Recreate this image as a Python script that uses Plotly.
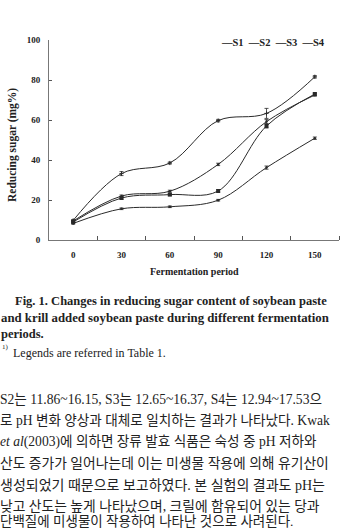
import plotly.graph_objects as go

# ---- data ----
periods = [0, 30, 60, 90, 120, 150]
series_names = ["S1", "S2", "S3", "S4"]
s1 = [8.3, 15.6, 16.6, 19.9, 36.2, 50.9]
s2 = [9.0, 21.0, 22.7, 24.5, 57.0, 73.0]
s3 = [9.5, 22.0, 24.4, 37.8, 59.2, 72.5]
s4 = [9.8, 33.2, 38.5, 59.7, 63.3, 81.6]
s1_err = [0.4, 0.4, 0.4, 0.4, 0.8, 0.6]
s2_err = [0.4, 0.6, 0.5, 0.6, 1.0, 0.6]
s3_err = [0.4, 0.5, 0.5, 0.6, 1.0, 0.6]
s4_err = [0.4, 1.0, 0.5, 0.6, 2.5, 0.6]
y_ticks = [0, 20, 40, 60, 80, 100]

W, H = 350, 530
L, R, T, B = 49, 11, 40, 290
PW, PH = W - L - R, H - T - B

def px(x):
    return (x - L) / PW

def py(y):
    return (H - B - y) / PH

SERIF = "Liberation Serif, Times New Roman, serif"
KR = "Liberation Serif, Noto Sans CJK KR, serif"
INK = "#2a2a2a"

fig = go.Figure()
styles = [
    dict(symbol="circle", size=2.5),
    dict(symbol="square", size=4),
    dict(symbol="circle", size=2.5),
    dict(symbol="cross-thin", size=3, line=dict(width=1, color=INK)),
]
for name, vals, err, st in zip(series_names, [s1, s2, s3, s4],
                               [s1_err, s2_err, s3_err, s4_err], styles):
    fig.add_trace(go.Scatter(
        x=periods, y=vals, name=name, mode="lines+markers",
        line=dict(color=INK, width=1, shape="spline", smoothing=1.0),
        marker=dict(color=INK, **st),
        error_y=dict(type="data", array=err, visible=True,
                     color=INK, thickness=0.8, width=2),
        showlegend=False,
    ))

fig.update_layout(
    width=W, height=H,
    margin=dict(l=L, r=R, t=T, b=B, pad=0),
    paper_bgcolor="white", plot_bgcolor="white",
    font=dict(family=SERIF, color="#222"),
)
fig.update_xaxes(
    range=[-15, 165], showgrid=False, zeroline=False,
    showline=True, linecolor="#777", linewidth=1,
    tickmode="array", tickvals=periods,
    ticktext=[f"<b>{p}</b>" for p in periods],
    ticks="", tickfont=dict(size=9, family=SERIF, color="#222"),
    ticklabelstandoff=6,
    minor=dict(tickmode="array", tickvals=[15, 45, 75, 105, 135, 165],
               ticks="inside", ticklen=4, tickcolor="#555", tickwidth=1),
)
fig.update_yaxes(
    range=[0, 100], showgrid=False, zeroline=False,
    showline=True, linecolor="#777", linewidth=1,
    tickmode="array", tickvals=y_ticks,
    ticktext=[f"<b>{v}</b>" for v in y_ticks],
    ticks="inside", ticklen=3, tickcolor="#555",
    tickfont=dict(size=9, family=SERIF, color="#222"),
    ticklabelstandoff=6,
)

ann = []
def add(text, x, y, size, xanchor="left", yanchor="middle", angle=0, family=SERIF, color="#222"):
    ann.append(dict(text=text, x=px(x), y=py(y), xref="paper", yref="paper",
                    showarrow=False, xanchor=xanchor, yanchor=yanchor,
                    textangle=angle, font=dict(size=size, family=family, color=color)))

# legend (text-style, as in the printed figure)
add("<b>—S1  —S2  —S3  —S4</b>", 327, 42, 10.5, xanchor="right")
# axis titles
add("<b>Fermentation period</b>", 194, 271, 10, xanchor="center")
add("<b>Reducing sugar (mg%)</b>", 12, 145, 11.5, xanchor="center", angle=-90)
# caption
add("<b>Fig. 1. Changes in reducing sugar content of soybean paste</b>", 13, 301, 12.5)
add("<b>and krill added soybean paste during different fermentation</b>", -1, 318, 12.8)
add("<b>periods.</b>", -1, 334, 12.5)
add("1)", 0, 347, 7)
add("Legends are referred in Table 1.", 11, 353, 12)
# body text
body = [
    "S2는 11.86~16.15, S3는 12.65~16.37, S4는 12.94~17.53으",
    "로 pH 변화 양상과 대체로 일치하는 결과가 나타났다. Kwak",
    "<i>et al</i>(2003)에 의하면 장류 발효 식품은 숙성 중 pH 저하와",
    "산도 증가가 일어나는데 이는 미생물 작용에 의해 유기산이",
    "생성되었기 때문으로 보고하였다. 본 실험의 결과도 pH는",
    "낮고 산도는 높게 나타났으며, 크릴에 함유되어 있는 당과",
    "단백질에 미생물이 작용하여 나타난 것으로 사려된다.",
]
ys = [399, 420.5, 442, 463.5, 485, 506.5, 521]
sizes = [13.6, 13.6, 13.6, 13.8, 14, 13.8, 13.5]
for t, y, s in zip(body, ys, sizes):
    add(t, -2, y, s, family=KR)

fig.update_layout(annotations=ann)
fig.write_html("out.html")
